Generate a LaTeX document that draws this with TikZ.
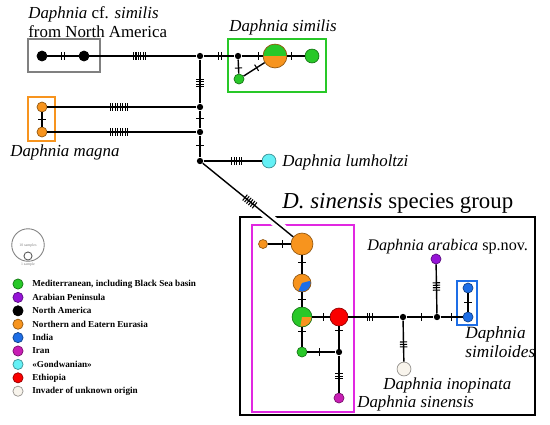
\documentclass[tikz,border=0pt]{standalone}
\usepackage{fontspec}
\setmainfont{Liberation Serif}
\usetikzlibrary{calc,decorations.markings}

\definecolor{medgreen}{RGB}{40,200,40}
\definecolor{eurorange}{RGB}{247,148,30}
\definecolor{arabpurple}{RGB}{150,20,215}
\definecolor{indblue}{RGB}{30,110,230}
\definecolor{iranmag}{RGB}{200,30,180}
\definecolor{gondcyan}{RGB}{100,240,245}
\definecolor{ethred}{RGB}{250,0,0}
\definecolor{invwhite}{RGB}{248,244,236}
\definecolor{boxmag}{RGB}{225,40,225}
\definecolor{boxgray}{RGB}{128,128,128}

\tikzset{
  hap/.style={circle, draw=#1!60!black, fill=#1, line width=0.4pt, inner sep=0pt},
  junc/.style={circle, fill=black, inner sep=0pt, minimum size=3.6pt},
  link/.style={line width=0.8pt},
  mut/.style 2 args={postaction={decorate, decoration={markings,
      mark=at position #1 with {\foreach \k in {1,...,#2}
        {\draw[line width=0.6pt] ({(\k-(#2+1)/2)*1.4pt},-2.1pt) -- ++(0,4.2pt);}}}}},
  lab/.style={font=\fontsize{9.6}{11}\selectfont, inner sep=0pt, anchor=west},
  leg/.style={font=\fontsize{5.2}{6}\selectfont\bfseries, inner sep=0pt, anchor=west},
}

\begin{document}
\begin{tikzpicture}[x=0.02cm,y=-0.02cm]
  \useasboundingbox (0,0) rectangle (550,424);

  % boxes round the groups
  \draw[boxgray, line width=1.1pt] (28,39) rectangle (100,72);
  \draw[medgreen, line width=1.1pt] (228,39) rectangle (326,92);
  \draw[eurorange, line width=1.1pt] (28,97) rectangle (55,141);
  \draw[black, line width=1.3pt] (240,217) rectangle (535,415);
  \draw[boxmag, line width=1.1pt] (252,225) rectangle (354,412);
  \draw[indblue, line width=1.1pt] (457,281) rectangle (477,325);

  % haplotypes
  \node[hap=black, minimum size=5.7pt] (na1) at (42,56) {};
  \node[hap=black, minimum size=5.7pt] (na2) at (84,56) {};
  \node[hap=eurorange, minimum size=13.6pt,
    path picture={\fill[medgreen] (path picture bounding box.west) rectangle (path picture bounding box.north east);}]
    (sim1) at (275,56) {};
  \node[hap=medgreen, minimum size=7.9pt] (sim2) at (312,56) {};
  \node[hap=medgreen, minimum size=5.7pt] (sim3) at (239,79) {};
  \node[hap=eurorange, minimum size=5.7pt] (mag1) at (42,107) {};
  \node[hap=eurorange, minimum size=5.7pt] (mag2) at (42,132) {};
  \node[hap=gondcyan, minimum size=7.9pt] (lum) at (269,161) {};
  \node[hap=eurorange, minimum size=12.5pt] (sin1) at (302,244) {};
  \node[hap=eurorange, minimum size=5.1pt] (sin0) at (263,244) {};
  \node[hap=eurorange, minimum size=10.2pt,
    path picture={\fill[indblue] (path picture bounding box.center) -- ++(-115:1cm) arc (-115:15:1cm) -- cycle;}]
    (sin2) at (302,283) {};
  \node[hap=medgreen, minimum size=11.3pt,
    path picture={\fill[eurorange] (path picture bounding box.center) -- ++(-100:1cm) arc (-100:0:1cm) -- cycle;}]
    (sin3) at (302,317) {};
  \node[hap=ethred, minimum size=10.2pt] (eth) at (339,317) {};
  \node[hap=medgreen, minimum size=5.7pt] (sin4) at (302,352) {};
  \node[hap=iranmag, minimum size=5.7pt] (iran) at (339,398) {};
  \node[hap=invwhite, minimum size=7.9pt] (inop) at (404,369) {};
  \node[hap=arabpurple, minimum size=5.7pt] (arab) at (436,259) {};
  \node[hap=indblue, minimum size=5.7pt] (ind1) at (468,288) {};
  \node[hap=indblue, minimum size=5.7pt] (ind2) at (468,317) {};

  % median vectors
  \node[junc] (J1) at (200,56) {};
  \node[junc] (J2) at (238,56) {};
  \node[junc] (J3) at (200,107) {};
  \node[junc] (J4) at (200,132) {};
  \node[junc] (J5) at (200,161) {};
  \node[junc] (J6) at (339,352) {};
  \node[junc] (J7) at (403,317) {};
  \node[junc] (J8) at (437,317) {};

  % gap in the boxes where the long branch enters
  \draw[white, line width=5pt] ($(J5)!0.62!(sin1)$) -- ($(J5)!0.82!(sin1)$);

  % links with mutation steps
  \draw[link, mut={0.5}{2}] (na1) -- (na2);
  \draw[link, mut={0.47}{6}] (na2) -- (J1);
  \draw[link, mut={0.53}{2}] (J1) -- (J2);
  \draw[link, mut={0.78}{1}] (J2) -- (sim1);
  \draw[link, mut={0.24}{1}] (sim1) -- (sim2);
  \draw[link, mut={0.6}{1}] (J2) -- (sim3);
  \draw[link, mut={0.62}{1}] (sim3) -- (sim1);
  \draw[link, mut={0.53}{4}] (J1) -- (J3);
  \draw[link, mut={0.48}{8}] (mag1) -- (J3);
  \draw[link, mut={0.48}{8}] (mag2) -- (J4);
  \draw[link, mut={0.5}{1}] (mag1) -- (mag2);
  \draw[link, mut={0.45}{1}] (J3) -- (J4);
  \draw[link, mut={0.44}{1}] (J4) -- (J5);
  \draw[link, mut={0.57}{5}] (J5) -- (lum);
  \draw[link, mut={0.52}{6}] (J5) -- (sin1);
  \draw[link, mut={0.65}{1}] (sin0) -- (sin1);
  \draw[link, mut={0.4}{1}] (sin1) -- (sin2);
  \draw[link, mut={0.53}{1}] (sin2) -- (sin3);
  \draw[link, mut={0.65}{1}] (sin3) -- (eth);
  \draw[link, mut={0.2}{1}] (sin3) -- (sin4);
  \draw[link, mut={0.43}{1}] (sin4) -- (J6);
  \draw[link, mut={0.2}{1}] (eth) -- (J6);
  \draw[link, mut={0.56}{3}] (J6) -- (iran);
  \draw[link, mut={0.42}{3}] (eth) -- (J7);
  \draw[link, mut={0.58}{3}] (J7) -- (inop);
  \draw[link, mut={0.57}{1}] (J7) -- (J8);
  \draw[link, mut={0.55}{4}] (J8) -- (arab);
  \draw[link, mut={0.5}{1}] (J8) -- (ind2);
  \draw[link, mut={0.5}{1}] (ind2) -- (ind1);

  % species names
  \node[lab, align=left] (nalab) at (28,22)
    {\textit{Daphnia} cf. \textit{similis}\\from North America};
  \node[lab] (simlab) at (229,27) {\textit{Daphnia similis}};
  \node[lab] (maglab) at (10,152) {\textit{Daphnia magna}};
  \node[lab] (lumlab) at (282,162) {\textit{Daphnia lumholtzi}};
  \node[lab, font=\fontsize{13}{15}\selectfont] (grplab) at (282,203)
    {\textit{D. sinensis} species group};
  \node[lab, font=\fontsize{9.2}{11}\selectfont] (arablab) at (367,247) {\textit{Daphnia arabica} sp.nov.};
  \node[lab, align=left, font=\fontsize{9.8}{11}\selectfont\itshape] (indlab) at (465,342)
    {Daphnia\\similoides};
  \node[lab] (inoplab) at (383,385) {\textit{Daphnia inopinata}};
  \node[lab] (sinlab) at (357,403) {\textit{Daphnia sinensis}};

  % legend
  \node[circle, draw=gray, line width=0.5pt, minimum size=18.5pt, inner sep=0pt] (size10) at (28,245) {};
  \node[circle, draw=gray!70!black, line width=0.5pt, minimum size=4.6pt, inner sep=0pt] (size1) at (28,256) {};
  \node[font=\fontsize{2.2}{2.4}\selectfont, text=gray, inner sep=0pt] (size10t) at (28,246) {10 samples};
  \node[font=\fontsize{2.2}{2.4}\selectfont, text=gray, inner sep=0pt] (size1t) at (28,265) {1 sample};
  \foreach \c/\t [count=\i] in {medgreen/{Mediterranean, including Black Sea basin},
      arabpurple/{Arabian Peninsula}, black/{North America},
      eurorange/{Northern and Eatern Eurasia}, indblue/{India}, iranmag/{Iran},
      gondcyan/{«Gondwanian»}, ethred/{Ethiopia}, invwhite/{Invader of unknown origin}}
  {
    \node[hap=\c, minimum size=5.8pt] (leg\i) at (18,{284+(\i-1)*13.4}) {};
    \node[leg] (legt\i) at (32,{284+(\i-1)*13.4}) {\t};
  }
\end{tikzpicture}
\end{document}
